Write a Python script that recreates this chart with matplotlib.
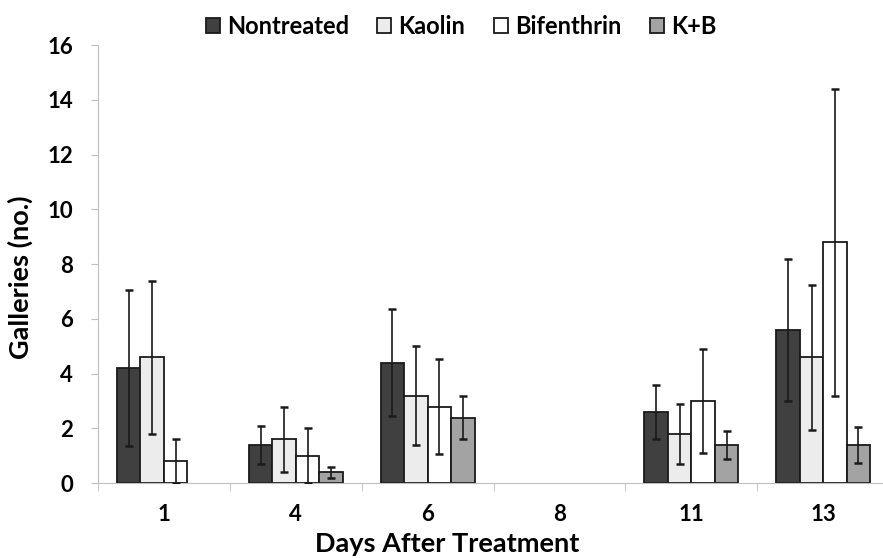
import numpy as np
import matplotlib.pyplot as plt

plt.rcParams['font.family'] = ['Lato', 'DejaVu Sans']

days = ["1", "4", "6", "8", "11", "13"]
treatments = ["Nontreated", "Kaolin", "Bifenthrin", "K+B"]

# mean galleries per treatment (nan = no data)
nontreated = [4.2, 1.4, 4.4, np.nan, 2.6, 5.6]
kaolin = [4.6, 1.6, 3.2, np.nan, 1.8, 4.6]
bifenthrin = [0.8, 1.0, 2.8, np.nan, 3.0, 8.8]
kb = [np.nan, 0.4, 2.4, np.nan, 1.4, 1.4]

# error bars
nontreated_err = [2.85, 0.7, 1.95, np.nan, 1.0, 2.6]
kaolin_err = [2.8, 1.2, 1.8, np.nan, 1.1, 2.65]
bifenthrin_err = [0.8, 1.0, 1.75, np.nan, 1.9, 5.6]
kb_err = [np.nan, 0.2, 0.8, np.nan, 0.5, 0.65]

means = [nontreated, kaolin, bifenthrin, kb]
errs = [nontreated_err, kaolin_err, bifenthrin_err, kb_err]
colors = ["#404040", "#ececec", "#ffffff", "#a3a3a3"]

fig = plt.figure(figsize=(8.83, 5.58), dpi=100)
ax = fig.add_axes([0.111, 0.134, 0.896, 0.785])

x = np.arange(len(days))
w = 0.178
for i in range(4):
    pos = x + (i - 1.5) * w
    ax.bar(pos, means[i], width=w, color=colors[i], edgecolor="#1a1a1a",
           linewidth=1.3, label=treatments[i], zorder=2)
    ax.errorbar(pos, means[i], yerr=errs[i], fmt="none", ecolor="#1a1a1a",
                elinewidth=1.2, capsize=3, capthick=1.8, zorder=3)

ax.set_xlim(-0.5, len(days) - 0.5)
ax.set_ylim(0, 16)
ax.set_yticks(np.arange(0, 17, 2))
ax.set_xticks(x)
ax.set_xticklabels(days)
ax.set_xticks(np.arange(-0.5, len(days), 1), minor=True)
ax.tick_params(axis="x", which="major", length=0, pad=15)
ax.tick_params(axis="x", which="minor", length=6, color="#bfbfbf")
ax.tick_params(axis="y", length=5, color="#bfbfbf", pad=13)
for lab in ax.get_xticklabels() + ax.get_yticklabels():
    lab.set_fontsize(16)
    lab.set_fontweight("bold")

for s in ["top", "right"]:
    ax.spines[s].set_visible(False)
ax.spines["left"].set_color("#bfbfbf")
ax.spines["bottom"].set_color("#bfbfbf")

ax.set_ylabel("Galleries (no.)", fontsize=19.5, fontweight="bold")
ax.set_xlabel("Days After Treatment", fontsize=19.5, fontweight="bold")
ax.yaxis.set_label_coords(-0.082, 0.47)
ax.xaxis.set_label_coords(0.441, -0.112)

fig.legend(loc="upper center", bbox_to_anchor=(0.522, 1.012), ncol=4, frameon=False,
           prop={"size": 17, "weight": "bold"}, handlelength=0.6, handleheight=0.6,
           handletextpad=0.3, columnspacing=1.2)

fig.savefig("out.png", dpi=100)
